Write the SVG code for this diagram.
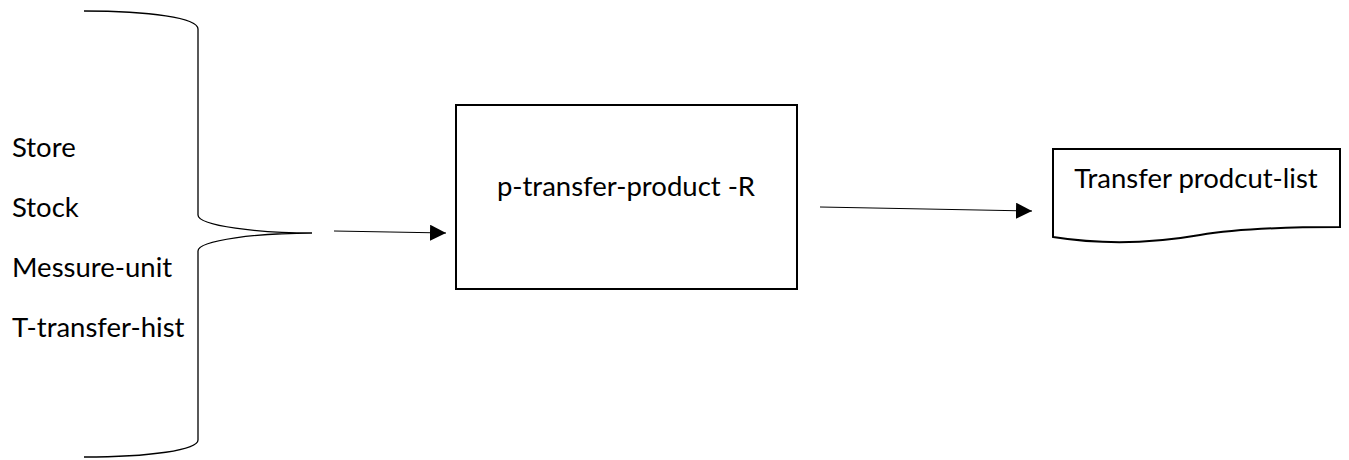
<svg xmlns="http://www.w3.org/2000/svg" width="1349" height="460" viewBox="0 0 1349 460">
  <style>
    .t { font-family: Lato, "Open Sans", "Liberation Sans", sans-serif; font-size: 27.5px; fill: #000; }
    .shape { fill: #fff; stroke: #000; stroke-width: 2; }
    .brace { fill: none; stroke: #000; stroke-width: 1.3; }
    .conn { fill: none; stroke: #000; stroke-width: 1.2; }
  </style>
  <defs>
    <marker id="arrow" markerWidth="16" markerHeight="16" refX="16" refY="8" orient="auto" markerUnits="userSpaceOnUse">
      <path d="M0,0 L16,8 L0,16 Z" fill="#000"/>
    </marker>
  </defs>
  <rect width="1349" height="460" fill="#fff"/>

  <g id="inputs">
    <path class="brace" d="M84,11 C150,11 198,18 198,29 L198,215 C198,226 260,233 312,233 C260,233 198,240 198,251 L198,440 C198,450 150,457 84,457"/>
    <text class="t" x="12" y="157">Store</text>
    <text class="t" x="12" y="217">Stock</text>
    <text class="t" x="12" y="277">Messure-unit</text>
    <text class="t" x="12" y="337">T-transfer-hist</text>
  </g>

  <g id="process">
    <rect class="shape" x="456" y="105" width="341" height="184"/>
    <text class="t" x="626" y="196" text-anchor="middle">p-transfer-product -R</text>
  </g>

  <g id="document">
    <path class="shape" d="M1053,149 L1340,149 L1340,227 C1290,227 1240,228 1200,235 C1160,242 1110,246 1053,237 Z"/>
    <text class="t" x="1196" y="188" text-anchor="middle">Transfer prodcut-list</text>
  </g>

  <g id="connectors">
    <line class="conn" x1="334" y1="231" x2="446" y2="233" marker-end="url(#arrow)"/>
    <line class="conn" x1="820" y1="207" x2="1032" y2="211" marker-end="url(#arrow)"/>
  </g>
</svg>
